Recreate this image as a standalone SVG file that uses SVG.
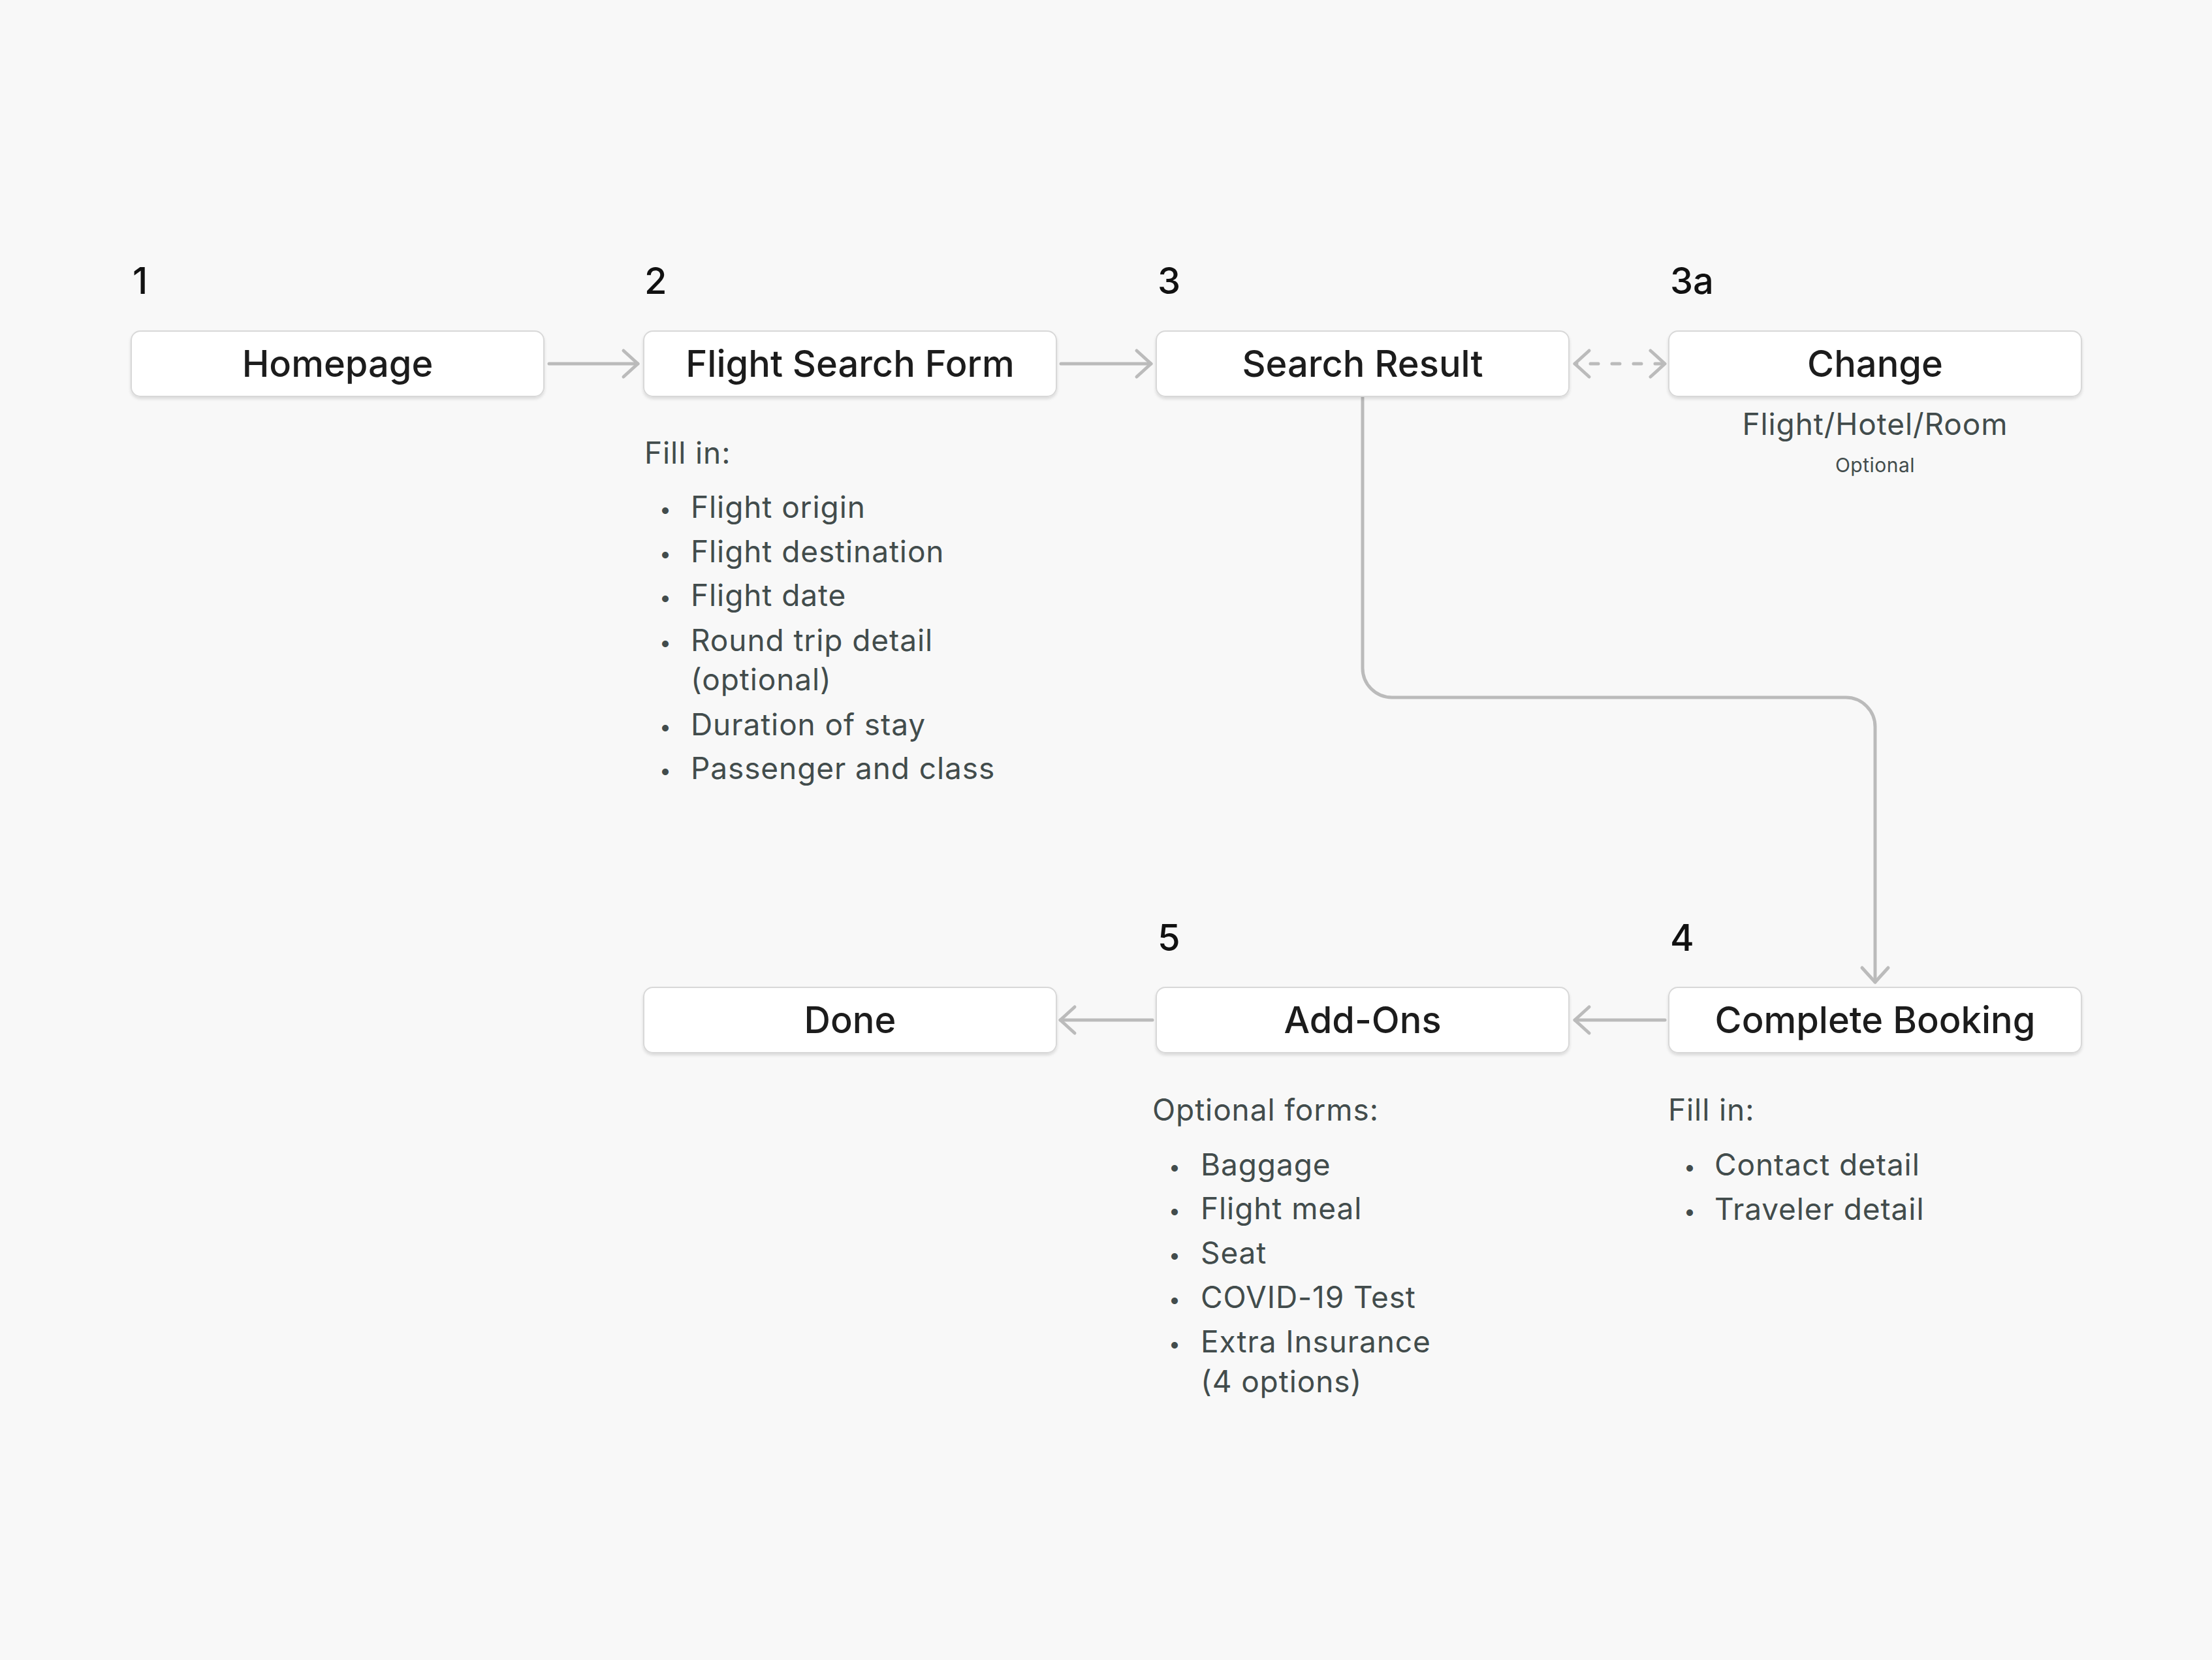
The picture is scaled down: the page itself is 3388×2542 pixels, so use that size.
<svg xmlns="http://www.w3.org/2000/svg" width="3388" height="2542" viewBox="0 0 3388 2542">
  <defs>
    <style>
      .box { fill: #ffffff; stroke: #d8d8d8; stroke-width: 2; filter: url(#shadow); }
      .label { font-family: "Inter", "Liberation Sans", sans-serif; font-size: 56px; font-weight: 500; fill: #1c1c1c; text-anchor: middle; }
      .num { font-family: "Inter", "Liberation Sans", sans-serif; font-size: 56px; font-weight: 500; fill: #111111; }
      .desc { font-family: "Inter", "Liberation Sans", sans-serif; font-size: 46px; font-weight: 400; fill: #424c4c; letter-spacing: 0.9px; }
      .bullet { font-family: "Inter", "Liberation Sans", sans-serif; font-size: 32px; fill: #424c4c; text-anchor: middle; }
      .small { font-family: "Inter", "Liberation Sans", sans-serif; font-size: 30px; fill: #424c4c; text-anchor: middle; letter-spacing: 0.5px; }
      .conn { fill: none; stroke: #bbbbbb; stroke-width: 5; stroke-linecap: round; stroke-linejoin: round; }
      .dashed { stroke-dasharray: 12 21; stroke-dashoffset: 9; }
    </style>
    <filter id="shadow" x="-5%" y="-20%" width="110%" height="150%">
      <feDropShadow dx="0" dy="3" stdDeviation="2" flood-color="#000000" flood-opacity="0.12"/>
    </filter>
    <marker id="arrow" viewBox="-30 -25 35 50" refX="0" refY="0" markerWidth="35" markerHeight="50" markerUnits="userSpaceOnUse" orient="auto-start-reverse">
      <path d="M -22 -20 L 0 0 L -22 20" fill="none" stroke="#bbbbbb" stroke-width="5" stroke-linecap="round" stroke-linejoin="round"/>
    </marker>
  </defs>

  <rect x="0" y="0" width="3388" height="2542" fill="#f8f8f8"/>

  <g id="connectors">
    <path class="conn" d="M 841 557 H 977" marker-end="url(#arrow)"/>
    <path class="conn" d="M 1625 557 H 1763" marker-end="url(#arrow)"/>
    <path class="conn dashed" d="M 2412 557 H 2550" marker-start="url(#arrow)" marker-end="url(#arrow)"/>
    <path class="conn" d="M 2087 609 V 1023 A 45 45 0 0 0 2132 1068 H 2827 A 45 45 0 0 1 2872 1113 V 1504" marker-end="url(#arrow)"/>
    <path class="conn" d="M 2550 1562 H 2412" marker-end="url(#arrow)"/>
    <path class="conn" d="M 1765 1562 H 1624" marker-end="url(#arrow)"/>
  </g>

  <g id="node-homepage">
    <text class="num" x="203" y="450">1</text>
    <rect class="box" x="201" y="507" width="632" height="100" rx="14"/>
    <text class="label" x="517" y="577">Homepage</text>
  </g>

  <g id="node-flight-search-form">
    <text class="num" x="987" y="450">2</text>
    <rect class="box" x="986" y="507" width="632" height="100" rx="14"/>
    <text class="label" x="1302" y="577">Flight Search Form</text>
    <text class="desc" x="987" y="710">Fill in:</text>
    <text class="bullet" x="1019" y="791">•</text>
    <text class="desc" x="1058" y="793">Flight origin</text>
    <text class="bullet" x="1019" y="859">•</text>
    <text class="desc" x="1058" y="861">Flight destination</text>
    <text class="bullet" x="1019" y="926">•</text>
    <text class="desc" x="1058" y="928">Flight date</text>
    <text class="bullet" x="1019" y="995">•</text>
    <text class="desc" x="1058" y="997">Round trip detail</text>
    <text class="desc" x="1058" y="1057">(optional)</text>
    <text class="bullet" x="1019" y="1124">•</text>
    <text class="desc" x="1058" y="1126">Duration of stay</text>
    <text class="bullet" x="1019" y="1191">•</text>
    <text class="desc" x="1058" y="1193">Passenger and class</text>
  </g>

  <g id="node-search-result">
    <text class="num" x="1773" y="450">3</text>
    <rect class="box" x="1771" y="507" width="632" height="100" rx="14"/>
    <text class="label" x="2087" y="577">Search Result</text>
  </g>

  <g id="node-change">
    <text class="num" x="2558" y="450">3a</text>
    <rect class="box" x="2556" y="507" width="632" height="100" rx="14"/>
    <text class="label" x="2872" y="577">Change</text>
    <text class="desc" x="2872" y="666" text-anchor="middle">Flight/Hotel/Room</text>
    <text class="small" x="2872" y="723">Optional</text>
  </g>

  <g id="node-complete-booking">
    <text class="num" x="2558" y="1456">4</text>
    <rect class="box" x="2556" y="1512" width="632" height="100" rx="14"/>
    <text class="label" x="2872" y="1582">Complete Booking</text>
    <text class="desc" x="2555" y="1716">Fill in:</text>
    <text class="bullet" x="2588" y="1798">•</text>
    <text class="desc" x="2626" y="1800">Contact detail</text>
    <text class="bullet" x="2588" y="1866">•</text>
    <text class="desc" x="2626" y="1868">Traveler detail</text>
  </g>

  <g id="node-add-ons">
    <text class="num" x="1773" y="1456">5</text>
    <rect class="box" x="1771" y="1512" width="632" height="100" rx="14"/>
    <text class="label" x="2087" y="1582">Add-Ons</text>
    <text class="desc" x="1765" y="1716">Optional forms:</text>
    <text class="bullet" x="1799" y="1798">•</text>
    <text class="desc" x="1839" y="1800">Baggage</text>
    <text class="bullet" x="1799" y="1865">•</text>
    <text class="desc" x="1839" y="1867">Flight meal</text>
    <text class="bullet" x="1799" y="1933">•</text>
    <text class="desc" x="1839" y="1935">Seat</text>
    <text class="bullet" x="1799" y="2001">•</text>
    <text class="desc" x="1839" y="2003">COVID-19 Test</text>
    <text class="bullet" x="1799" y="2069">•</text>
    <text class="desc" x="1839" y="2071">Extra Insurance</text>
    <text class="desc" x="1839" y="2132">(4 options)</text>
  </g>

  <g id="node-done">
    <rect class="box" x="986" y="1512" width="632" height="100" rx="14"/>
    <text class="label" x="1302" y="1582">Done</text>
  </g>
</svg>
